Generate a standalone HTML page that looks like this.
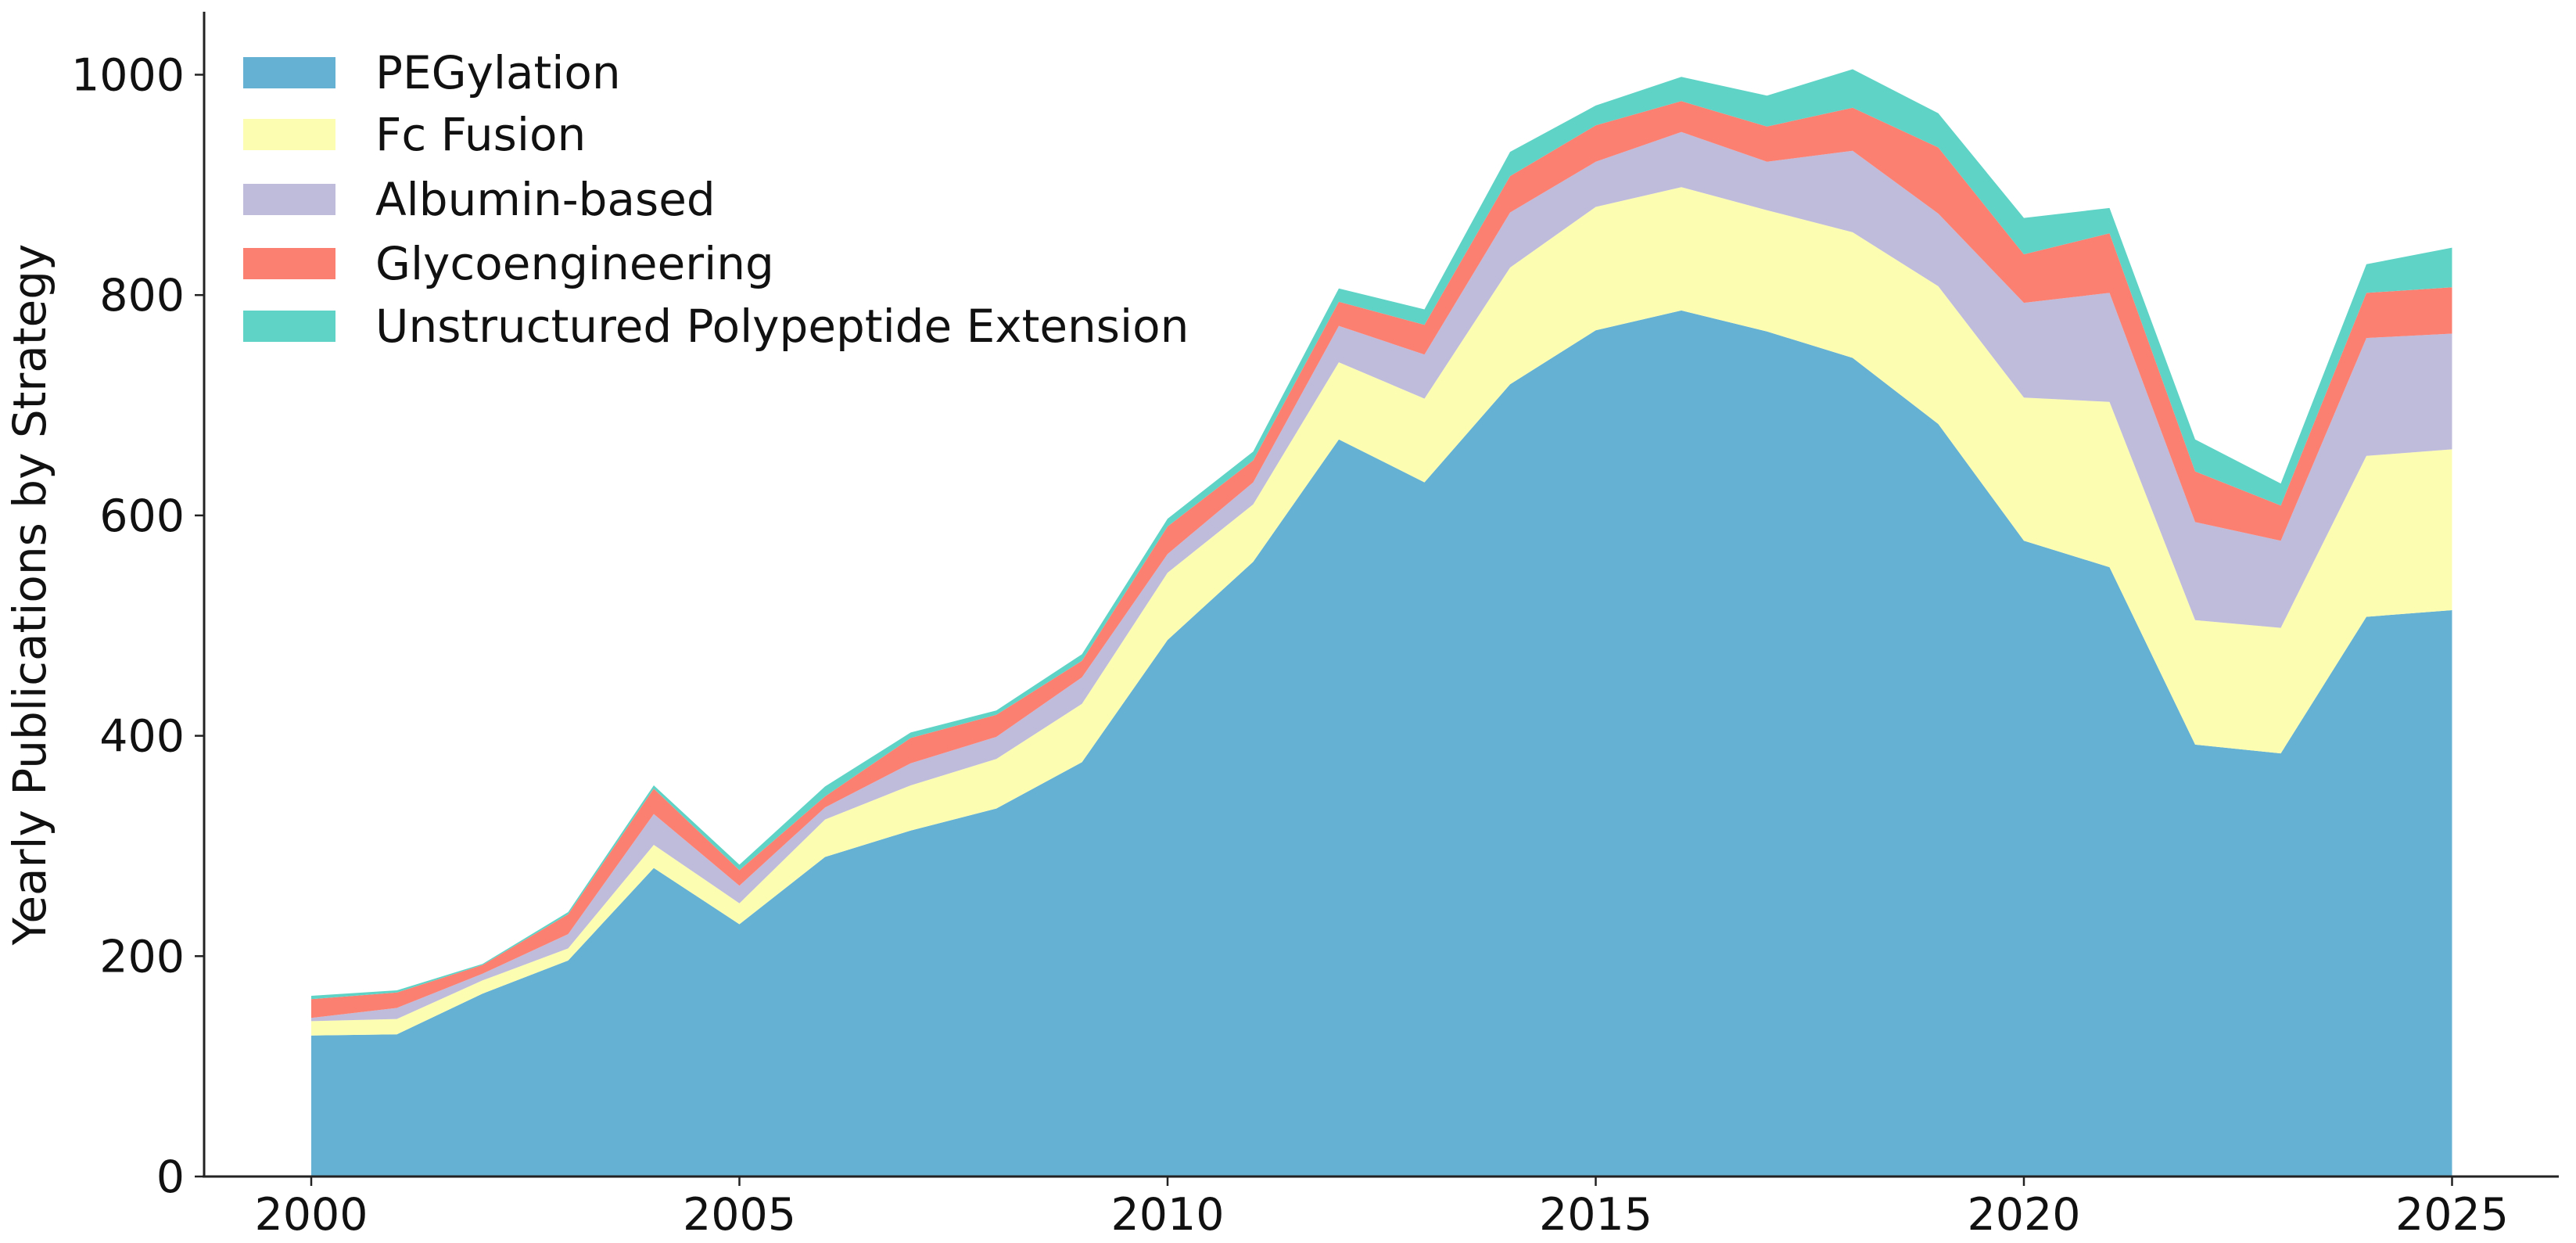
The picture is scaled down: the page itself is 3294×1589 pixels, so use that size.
<!DOCTYPE html>
<html><head><meta charset="utf-8">
<style>
html,body{margin:0;padding:0;background:#fff;}
svg{display:block;}
text{font-family:"DejaVu Sans","Liberation Sans",sans-serif;fill:#111;}
</style></head>
<body>
<svg id="chart" width="3294" height="1589" viewBox="0 0 3294 1589" xmlns="http://www.w3.org/2000/svg">
<g id="areas"></g>
<g id="axes"></g>
<g id="legend"></g>
<text transform="translate(58,760) rotate(-90)" text-anchor="middle" font-size="58">Yearly Publications by Strategy</text>
</svg>
<script>
const years = [2000,2001,2002,2003,2004,2005,2006,2007,2008,2009,2010,2011,2012,2013,2014,2015,2016,2017,2018,2019,2020,2021,2022,2023,2024,2025];
const pegylation = [128,129,166,196,280,229,290,314,334,376,487,558,669,630,719,768,786,767,743,683,577,553,392,384,508,514];
const fcFusion = [13,14,12,11,21,19,34,41,45,53,61,52,70,76,106,112,112,110,114,125,130,150,113,114,146,146];
const albumin = [3,10,6,13,28,16,11,20,20,24,17,20,33,40,50,41,50,44,74,66,86,99,89,79,107,105];
const glyco = [17,14,8,18,23,14,10,23,20,15,25,20,22,27,33,33,28,32,39,60,44,54,46,32,41,42];
const upe = [3,2,1,2,3,5,9,5,4,6,7,8,12,14,22,18,22,28,35,31,33,23,29,20,26,36];
const seriesNames = ["PEGylation","Fc Fusion","Albumin-based","Glycoengineering","Unstructured Polypeptide Extension"];
const seriesColors = ["#64b1d4","#fdfdb2","#bfbbdb","#fb8072","#5fd3c6"];
const yTicks = [0,200,400,600,800,1000];
const xTicks = [2000,2005,2010,2015,2020,2025];

const X0=398, PX_PER_YEAR=109.5, Y0=1504, PX_PER_UNIT=1.4085;
const xs = y => X0 + (y-2000)*PX_PER_YEAR;
const ys = v => Y0 - v*PX_PER_UNIT;
const NS="http://www.w3.org/2000/svg";
const series=[pegylation,fcFusion,albumin,glyco,upe];
const areas=document.getElementById('areas');
let base=years.map(()=>0);
series.forEach((s,k)=>{
  const top=base.map((b,i)=>b+s[i]);
  let d="";
  years.forEach((yr,i)=>{d+=(i?"L":"M")+xs(yr).toFixed(1)+","+ys(top[i]).toFixed(1);});
  for(let i=years.length-1;i>=0;i--){d+="L"+xs(years[i]).toFixed(1)+","+ys(base[i]).toFixed(1);}
  d+="Z";
  const p=document.createElementNS(NS,'path');
  p.setAttribute('d',d);
  p.setAttribute('fill',seriesColors[k]);
  
  
  areas.appendChild(p);
  base=top;
});
const axes=document.getElementById('axes');
function line(x1,y1,x2,y2,w,name){
  const l=document.createElementNS(NS,'line');
  l.setAttribute('x1',x1);l.setAttribute('y1',y1);l.setAttribute('x2',x2);l.setAttribute('y2',y2);
  l.setAttribute('stroke','#222');l.setAttribute('stroke-width',w);
  
  
  axes.appendChild(l);
}
function txt(x,y,s,anchor,size,name){
  const t=document.createElementNS(NS,'text');
  t.setAttribute('x',x);t.setAttribute('y',y);t.setAttribute('text-anchor',anchor);t.setAttribute('font-size',size);
  t.textContent=s;
  
  
  axes.appendChild(t);
}
line(261,15,261,1505,3,'y-axis-line');
line(259,1504,3272,1504,3,'x-axis-line');
yTicks.forEach(v=>{line(249,ys(v),261,ys(v),2.5,'y-tick');txt(236,ys(v)+20,String(v),'end',57,'y-tick-label');});
xTicks.forEach(v=>{line(xs(v),1504,xs(v),1516,2.5,'x-tick');txt(xs(v),1572,String(v),'middle',57,'x-tick-label');});
const legend=document.getElementById('legend');
const rowY=[93,172,255,337,417];
seriesNames.forEach((n,k)=>{
  const r=document.createElementNS(NS,'rect');
  r.setAttribute('x',311);r.setAttribute('y',rowY[k]-20);r.setAttribute('width',118);r.setAttribute('height',40);
  r.setAttribute('fill',seriesColors[k]);
  
  
  legend.appendChild(r);
  const t=document.createElementNS(NS,'text');
  t.setAttribute('x',480);t.setAttribute('y',rowY[k]+20);t.setAttribute('font-size',58);
  t.textContent=n;
  
  
  legend.appendChild(t);
});
</script>
</body></html>
